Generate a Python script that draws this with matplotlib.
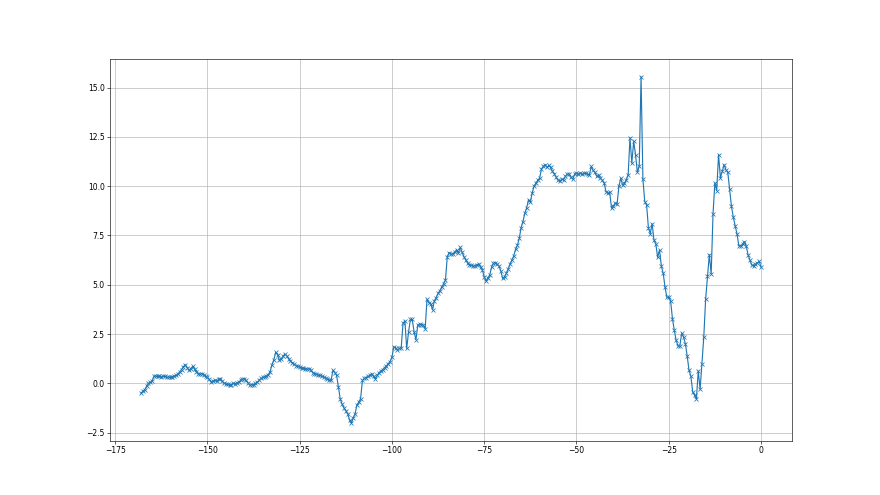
import numpy as np
import matplotlib
matplotlib.use("Agg")
import matplotlib.pyplot as plt

x_start = -168.0
x_step = 0.5

values = [
    -0.50, -0.40, -0.32, -0.15, 0.00, 0.05, 0.10, 0.36, 0.38, 0.35,
    0.37, 0.33, 0.36, 0.35, 0.30, 0.33, 0.30, 0.32, 0.38, 0.40,
    0.48, 0.58, 0.70, 0.85, 0.95, 0.80, 0.66, 0.75, 0.86, 0.72,
    0.60, 0.49, 0.46, 0.50, 0.44, 0.35, 0.30, 0.20, 0.07, 0.12,
    0.15, 0.10, 0.20, 0.24, 0.12, 0.00, -0.02, -0.05, -0.10, -0.06,
    0.00, -0.02, 0.02, 0.08, 0.15, 0.22, 0.24, 0.15, 0.02, -0.10,
    -0.06, -0.08, 0.00, 0.05, 0.15, 0.25, 0.30, 0.33, 0.38, 0.45,
    0.60, 0.95, 1.20, 1.58, 1.45, 1.17, 1.25, 1.38, 1.48, 1.40,
    1.25, 1.13, 1.05, 0.98, 0.90, 0.86, 0.82, 0.78, 0.76, 0.75,
    0.72, 0.74, 0.70, 0.55, 0.49, 0.47, 0.42, 0.40, 0.36, 0.32,
    0.28, 0.22, 0.18, 0.15, 0.66, 0.55, 0.41, -0.19, -0.80, -1.05,
    -1.24, -1.40, -1.54, -1.85, -2.02, -1.75, -1.55, -1.10, -0.95, -0.78,
    0.15, 0.25, 0.29, 0.35, 0.40, 0.49, 0.35, 0.24, 0.40, 0.55,
    0.62, 0.70, 0.80, 0.88, 1.00, 1.10, 1.34, 1.85, 1.80, 1.68,
    1.77, 1.80, 3.04, 3.17, 1.77, 2.61, 3.24, 3.24, 2.61, 2.22,
    2.95, 3.00, 2.98, 2.95, 2.78, 4.26, 4.10, 4.05, 3.73, 4.19,
    4.35, 4.56, 4.70, 4.90, 5.05, 5.24, 6.43, 6.63, 6.55, 6.56,
    6.65, 6.77, 6.60, 6.90, 6.65, 6.43, 6.25, 6.10, 6.00, 5.98,
    5.95, 5.97, 6.02, 6.05, 5.90, 5.75, 5.40, 5.18, 5.35, 5.50,
    5.90, 6.09, 6.12, 6.05, 5.95, 5.70, 5.32, 5.40, 5.58, 5.80,
    6.05, 6.25, 6.46, 6.80, 7.00, 7.36, 7.90, 8.20, 8.63, 8.90,
    9.31, 9.20, 9.65, 10.00, 10.16, 10.30, 10.40, 10.85, 11.00, 11.09,
    10.95, 11.05, 10.95, 10.75, 10.63, 10.45, 10.30, 10.24, 10.35, 10.33,
    10.50, 10.60, 10.63, 10.45, 10.36, 10.60, 10.66, 10.62, 10.65, 10.60,
    10.66, 10.65, 10.60, 10.58, 11.00, 10.80, 10.70, 10.50, 10.55, 10.40,
    10.30, 10.16, 9.73, 9.65, 9.68, 8.89, 9.00, 9.14, 9.10, 9.99,
    10.40, 10.07, 10.15, 10.33, 10.58, 12.45, 11.17, 12.27, 11.60, 10.70,
    11.00, 15.55, 10.36, 9.22, 9.05, 7.87, 7.60, 8.09, 7.27, 7.07,
    6.39, 6.77, 5.95, 5.58, 4.87, 4.36, 4.36, 4.20, 3.29, 2.70,
    2.19, 1.90, 1.90, 2.53, 2.36, 2.02, 1.39, 0.66, 0.36, -0.44,
    -0.60, -0.78, 0.63, -0.30, 1.00, 2.36, 4.28, 5.42, 6.53, 5.54,
    8.60, 10.17, 9.78, 11.60, 10.41, 10.75, 11.09, 10.83, 10.70, 9.85,
    8.97, 8.43, 7.99, 7.58, 6.97, 6.97, 7.05, 7.19, 6.97, 6.51,
    6.26, 6.00, 5.95, 6.05, 6.10, 6.19, 5.90,
]

x = x_start + x_step * np.arange(len(values))

fig = plt.figure(figsize=(16, 9), dpi=55)
ax = fig.add_subplot(111)
ax.plot(x, values, marker="x", color="C0")
ax.grid(True)
fig.savefig("out.png", dpi=55)
